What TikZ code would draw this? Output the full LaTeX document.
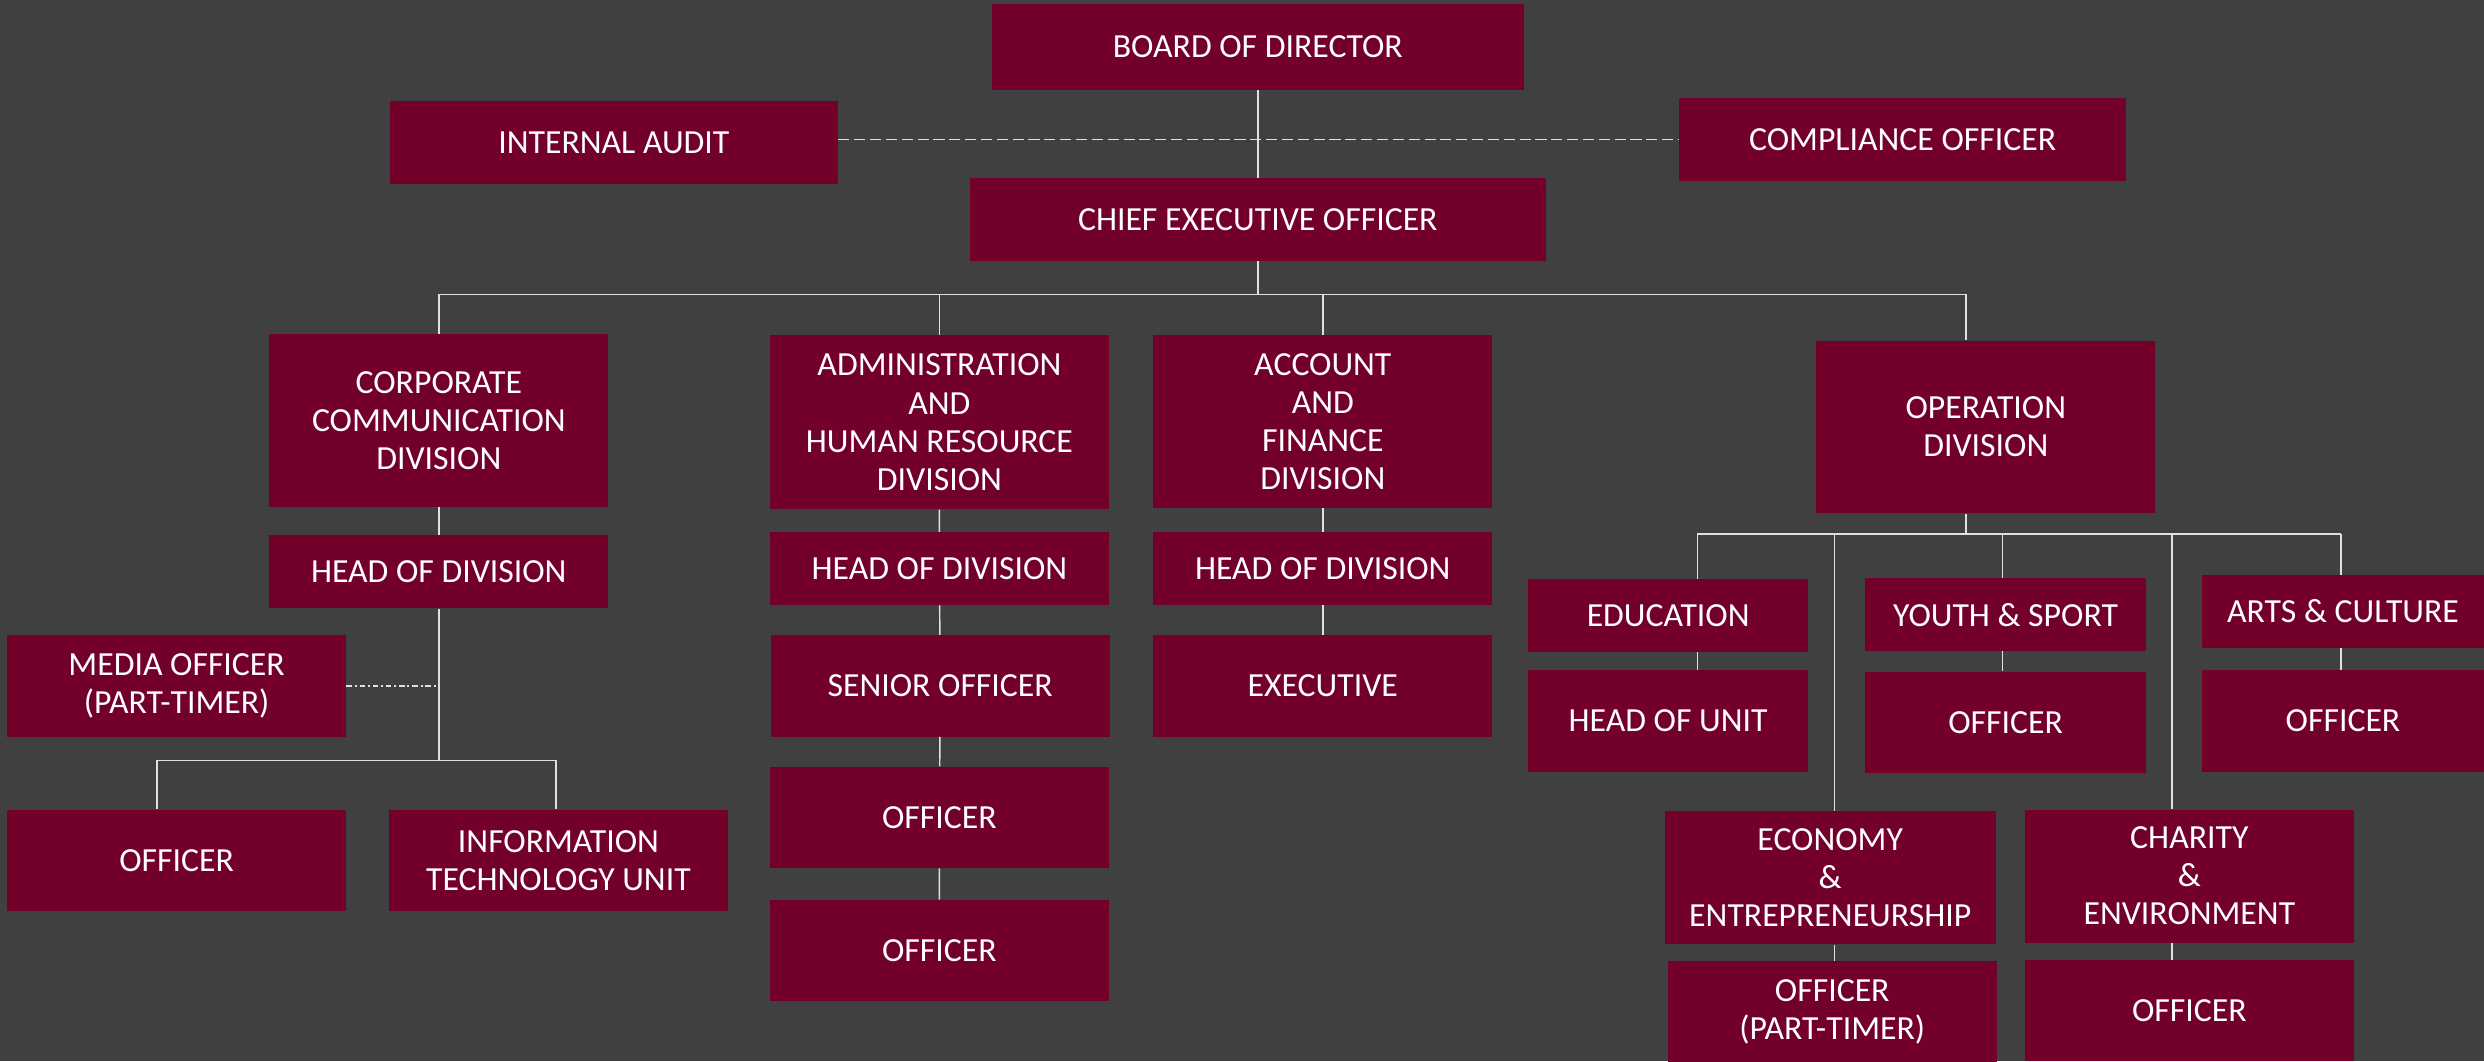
\documentclass[tikz,border=0pt]{standalone}
\usepackage{fontspec}
\setmainfont{Carlito}
\definecolor{bgray}{HTML}{404040}
\definecolor{wine}{HTML}{72002B}
\begin{document}
\begin{tikzpicture}[x=1pt,y=-1pt,
  box/.style={fill=wine, text=white, inner sep=0pt, align=center, font=\fontsize{21.3}{24}\selectfont},
  sz/.style 2 args={minimum width=#1pt, minimum height=#2pt},
  link/.style={draw=white!88!black, line width=0.9pt},
  dashlink/.style={link, dash pattern=on 7pt off 3pt},
  dotlink/.style={link, dash pattern=on 3.5pt off 1.8pt on 1.2pt off 1.8pt}]
\useasboundingbox[fill=bgray] (0,0) rectangle (1568,670);
% top
\node[box, sz={336}{54}] (board) at (794,29.5) {BOARD OF DIRECTOR};
\node[box, sz={283}{52}] (audit) at (387.5,90) {INTERNAL AUDIT};
\node[box, sz={282}{52}] (comp) at (1201,88) {COMPLIANCE OFFICER};
\node[box, sz={364}{52}] (ceo) at (794,138.5) {CHIEF EXECUTIVE OFFICER};
% divisions
\node[box, sz={214}{109}] (corp) at (277,265.5) {CORPORATE\\COMMUNICATION\\DIVISION};
\node[box, sz={214}{110}] (admin) at (593,266.5) {ADMINISTRATION\\AND\\HUMAN RESOURCE\\DIVISION};
\node[box, sz={214}{109}] (acct) at (835,266) {ACCOUNT\\AND\\FINANCE\\DIVISION};
\node[box, sz={214}{109}] (oper) at (1253.5,269.5) {OPERATION\\DIVISION};
% corporate communication
\node[box, sz={214}{46}] (cchead) at (277,361) {HEAD OF DIVISION};
\node[box, sz={214}{64}] (media) at (111.5,433) {MEDIA OFFICER\\(PART-TIMER)};
\node[box, sz={214}{64}] (ccoff) at (111.5,543) {OFFICER};
\node[box, sz={214}{64}] (itunit) at (352.5,543) {INFORMATION\\TECHNOLOGY UNIT};
% administration
\node[box, sz={214}{46}] (ahead) at (593,359) {HEAD OF DIVISION};
\node[box, sz={214}{64}] (senior) at (593.5,433) {SENIOR OFFICER};
\node[box, sz={214}{64}] (aoff1) at (593,516) {OFFICER};
\node[box, sz={214}{64}] (aoff2) at (593,600) {OFFICER};
% account
\node[box, sz={214}{46}] (fhead) at (835,359) {HEAD OF DIVISION};
\node[box, sz={214}{64}] (exec) at (835,433) {EXECUTIVE};
% operation
\node[box, sz={177}{46}] (edu) at (1053,388.5) {EDUCATION};
\node[box, sz={177}{64}] (unit) at (1053,455) {HEAD OF UNIT};
\node[box, sz={177}{46}] (youth) at (1266,388) {YOUTH \& SPORT};
\node[box, sz={177}{64}] (yoff) at (1266,456) {OFFICER};
\node[box, sz={178}{46}] (arts) at (1479,386) {ARTS \& CULTURE};
\node[box, sz={178}{64}] (artsoff) at (1479,455) {OFFICER};
\node[box, sz={209}{84}] (econ) at (1155.3,554) {ECONOMY\\\&\\ENTREPRENEURSHIP};
\node[box, sz={208}{64}] (ptoff) at (1156.6,638.5) {OFFICER\\(PART-TIMER)};
\node[box, sz={208}{84}] (charity) at (1382,553) {CHARITY\\\&\\ENVIRONMENT};
\node[box, sz={208}{64}] (choff) at (1382,638) {OFFICER};

% top connectors
\draw[dashlink] (audit.east |- comp.west) -- (comp.west);
\draw[link] (board) -- (ceo);
\coordinate (bus) at (794,186);
\coordinate (opdrop) at (1241,186);
\draw[link] (ceo) -- (bus);
\draw[link] (corp.north) |- (opdrop) -- (opdrop |- oper.north);
\draw[link] (admin.north) -- (admin.north |- bus);
\draw[link] (acct.north) -- (acct.north |- bus);

% corporate communication
\coordinate (ccbus) at (277,480);
\coordinate (offT) at (99,480);
\coordinate (itT) at (351,480);
\draw[link] (corp) -- (cchead);
\draw[link] (cchead) -- (ccbus);
\draw[dotlink] (media.east) -- (media.east -| ccbus);
\draw[link] (offT) -- (itT);
\draw[link] (offT) -- (offT |- ccoff.north);
\draw[link] (itT) -- (itT |- itunit.north);

% administration and account
\draw[link] (admin) -- (ahead) -- (senior) -- (aoff1) -- (aoff2);
\draw[link] (acct) -- (fhead) -- (exec);

% operation
\coordinate (opbus) at (1241,337);
\coordinate (eduT) at (1071.5,337);
\coordinate (econT) at (1158,337);
\coordinate (youthT) at (1264,337);
\coordinate (charT) at (1371,337);
\coordinate (artsT) at (1477.6,337);
\draw[link] (opdrop |- oper.south) -- (opbus);
\draw[link] (eduT) -- (artsT);
\foreach \t/\b in {eduT/edu, econT/econ, youthT/youth, charT/charity, artsT/arts}
  \draw[link] (\t) -- (\t |- \b.north);
\foreach \t/\a/\b in {eduT/edu/unit, youthT/youth/yoff, artsT/arts/artsoff, econT/econ/ptoff, charT/charity/choff}
  \draw[link] (\t |- \a.south) -- (\t |- \b.north);

\end{tikzpicture}
\end{document}
